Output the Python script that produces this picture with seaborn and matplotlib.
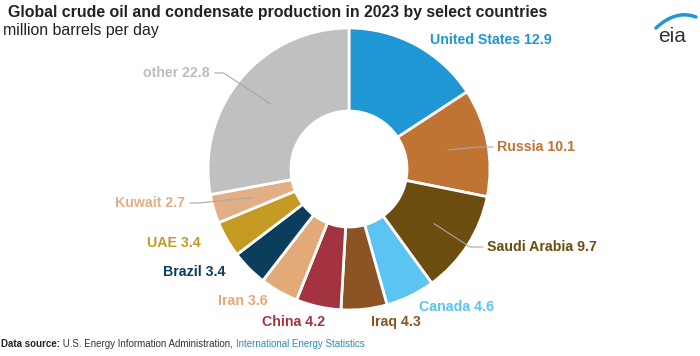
import numpy as np
import matplotlib
matplotlib.use("Agg")
import matplotlib.pyplot as plt
import seaborn as sns

countries = ["United States", "Russia", "Saudi Arabia", "Canada", "Iraq", "China",
             "Iran", "Brazil", "UAE", "Kuwait", "other"]
production = [12.9, 10.1, 9.7, 4.6, 4.3, 4.2, 3.6, 3.4, 3.4, 2.7, 22.8]
colors = ["#1f97d4", "#c07433", "#6c4c0f", "#5bc4f1", "#8c5424", "#a3333f",
          "#e2aa78", "#0b3d5c", "#c49a22", "#e2ae85", "#c0c0c0"]
label_colors = colors[:-1] + ["#bdbdbd"]

sns.set_theme(style="white")
plt.rcParams["font.family"] = ["Liberation Sans", "DejaVu Sans"]

# label placement in pixel coords (x, y, has leader line)
label_pos = {
    "United States": (430, 40, False),
    "Russia": (497, 147, True),
    "Saudi Arabia": (487, 247, True),
    "Canada": (419, 307, False),
    "Iraq": (371, 322, False),
    "China": (262, 322, False),
    "Iran": (218, 301, False),
    "Brazil": (163, 272, False),
    "UAE": (147, 243, False),
    "Kuwait": (115, 203, True),
    "other": (143, 73, True),
}

fig = plt.figure(figsize=(7, 3.56), dpi=100)
ax = fig.add_axes([0, 0, 1, 1])

cx, cy, R = 349, 169, 141
# y axis is flipped (pixel coords), so counterclock in data = clockwise on screen
wedges, _ = ax.pie(production, colors=colors, startangle=-90, counterclock=True,
                   center=(cx, cy), radius=R,
                   wedgeprops=dict(width=83, edgecolor="white", linewidth=2))
ax.set_xlim(0, 700)
ax.set_ylim(356, 0)
ax.set_aspect("equal")
ax.axis("off")

labels = []
for w, name, val, lc in zip(wedges, countries, production, label_colors):
    tx, ty, leader = label_pos[name]
    t = ax.text(tx, ty, f"{name} {val}", color=lc, fontsize=10.2, fontweight="bold",
                ha="left", va="center")
    labels.append((w, t, tx, ty, leader))

fig.canvas.draw()
renderer = fig.canvas.get_renderer()
inv = ax.transData.inverted()
for w, t, tx, ty, leader in labels:
    if not leader:
        continue
    mid = np.deg2rad((w.theta1 + w.theta2) / 2)
    sx, sy = cx + 101 * np.cos(mid), cy + 101 * np.sin(mid)
    if tx > cx:
        ax.plot([sx, tx - 17, tx - 4], [sy, ty, ty], color="#a8a8a8", lw=0.8)
    else:
        bb = t.get_window_extent(renderer)
        ex = inv.transform((bb.x1, bb.y0))[0]
        ax.plot([ex + 5, ex + 14, sx], [ty, ty, sy], color="#a8a8a8", lw=0.8)

ax.text(8, 12, "Global crude oil and condensate production in 2023 by select countries",
        fontsize=11.4, fontweight="bold", color="#222222", ha="left", va="center")
ax.text(3, 31, "million barrels per day", fontsize=11.4, color="#222222",
        ha="left", va="center")

t1 = ax.text(1, 347, "Data source:", fontsize=7, fontweight="bold", color="#222222",
             ha="left", va="baseline")
t2 = ax.annotate(" U.S. Energy Information Administration, ", xy=(1, 0), xycoords=t1,
                 fontsize=7, color="#333333", ha="left", va="bottom")
ax.annotate("International Energy Statistics", xy=(1, 0), xycoords=t2,
            fontsize=7, color="#2a8cb8", ha="left", va="bottom")

# eia logo
ax.text(672, 36, "eia", fontsize=15, color="#333333", ha="center", va="center")
coef = np.polyfit([656, 676, 696], [28, 16, 17], 2)
xs = np.linspace(656, 696, 40)
ax.plot(xs, np.polyval(coef, xs), color="#1f97d4", lw=2.5, solid_capstyle="round")

fig.savefig("out.png", dpi=100)
